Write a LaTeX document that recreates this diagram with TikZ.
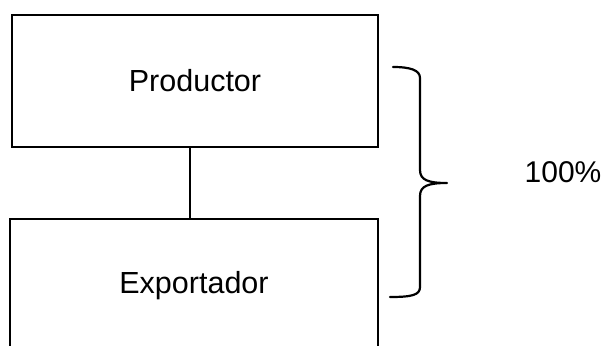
\documentclass[tikz,border=0pt]{standalone}
\usepackage{fontspec}
\setmainfont{Liberation Sans}
\begin{document}
\begin{tikzpicture}[x=1pt,y=-1pt,
  boxstyle/.style={draw=black,line width=2pt,rectangle,inner sep=0pt,
    font=\fontsize{30.5}{36}\selectfont,text height=21.5pt,text depth=0pt},
  linkstyle/.style={draw=black,line width=2pt},
  bracestyle/.style={draw=black,line width=2.2pt,line cap=round,line join=round},
  labelstyle/.style={font=\fontsize{30}{36}\selectfont,text height=21.3pt,text depth=0pt,inner sep=0pt}]
\useasboundingbox (0,0) rectangle (604,345);
\clip (0,0) rectangle (604,345);
\fill[white] (0,0) rectangle (604,345);
\node[boxstyle,minimum width=366pt,minimum height=132pt] (prod) at (195,81) {Productor};
\node[boxstyle,minimum width=368pt,minimum height=128pt] (expo) at (194,283) {Exportador};
\draw[linkstyle] ([xshift=-5pt]prod.south) -- ([xshift=-4pt]expo.north);
\coordinate (btop) at (393,67);
\coordinate (btip) at (447,183);
\coordinate (bbot) at (390,297);
\draw[bracestyle] (btop) .. controls (410,67) and (420,70) .. (420,78)
  -- (420,170) .. controls (420,180) and (428,183) .. (btip)
  .. controls (428,183) and (420,186) .. (420,196)
  -- (420,287) .. controls (420,295) and (412,297) .. (bbot);
\node[labelstyle] (pct) at (563,172) {100\%};
\end{tikzpicture}
\end{document}
